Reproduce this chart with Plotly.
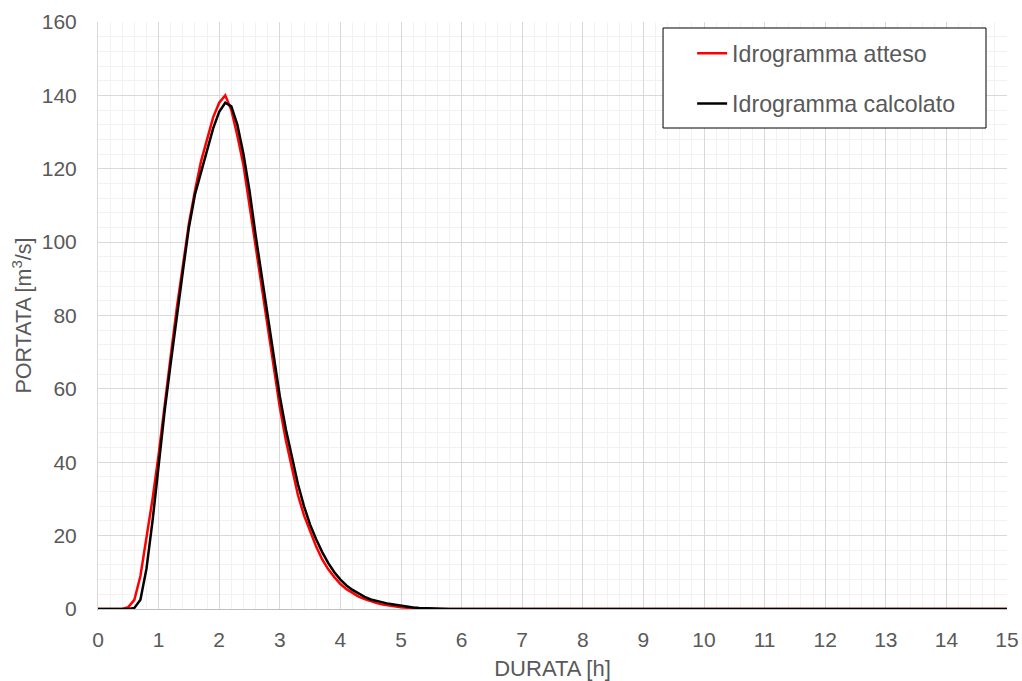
import plotly.graph_objects as go

# durata [h]
durata = [0.0, 0.1, 0.2, 0.3, 0.4, 0.5, 0.6, 0.7, 0.8, 0.9,
          1.0, 1.1, 1.2, 1.3, 1.4, 1.5, 1.6, 1.7, 1.8, 1.9,
          2.0, 2.1, 2.2, 2.3, 2.4, 2.5, 2.6, 2.7, 2.8, 2.9,
          3.0, 3.1, 3.2, 3.3, 3.4, 3.5, 3.6, 3.7, 3.8, 3.9,
          4.0, 4.1, 4.2, 4.3, 4.4, 4.5, 4.6, 4.7, 4.8, 4.9,
          5.0, 5.1, 5.2, 5.3, 5.4, 5.5, 5.6, 5.7, 5.8, 5.9,
          6.0, 15.0]

# portata [m3/s]
q_atteso = [0, 0, 0, 0, 0, 0.5, 2.5, 9, 19, 30,
            42, 56, 69, 82, 94, 105, 114, 122, 128, 134,
            138, 140, 136, 129, 121, 110, 99, 88, 76, 65,
            55, 46, 38, 31, 25.5, 21, 17, 13.5, 10.8, 8.7,
            6.8, 5.4, 4.3, 3.4, 2.7, 2.1, 1.6, 1.2, 0.9, 0.7,
            0.5, 0.35, 0.25, 0.15, 0.08, 0, 0, 0, 0, 0,
            0, 0]

q_calcolato = [0, 0, 0, 0, 0, 0, 0.3, 2.5, 11, 24,
               39, 54, 67, 80, 92, 104, 113, 119, 125, 131,
               135.5, 138, 137, 132, 124, 114, 102, 91, 79, 68,
               58, 49, 41, 34, 28, 23, 19, 15.5, 12.5, 10,
               8, 6.4, 5.2, 4.2, 3.3, 2.6, 2.1, 1.8, 1.4, 1.1,
               0.8, 0.6, 0.4, 0.3, 0.2, 0.1, 0.05, 0, 0, 0,
               0, 0]

font_fam = "Liberation Sans, Arial, sans-serif"
grey = "#595959"

fig = go.Figure()
fig.add_trace(go.Scatter(x=durata, y=q_atteso, mode="lines", name="Idrogramma atteso",
                         line=dict(color="#ff0000", width=2.5), legendgroup="a"))
fig.add_trace(go.Scatter(x=durata, y=q_calcolato, mode="lines", name="Idrogramma calcolato",
                         line=dict(color="#000000", width=2.5), legendgroup="b"))

fig.update_layout(
    width=1022, height=681,
    margin=dict(l=98, r=15, t=22, b=72),
    paper_bgcolor="white", plot_bgcolor="white",
    font=dict(family=font_fam, size=21, color=grey),
    showlegend=True,
    legend=dict(x=0.6536, y=0.9835, xanchor="left", yanchor="top",
                borderwidth=0, bgcolor="rgba(0,0,0,0)",
                traceorder="grouped", tracegroupgap=17,
                font=dict(family=font_fam, size=23.2, color=grey)),
    xaxis=dict(range=[0, 15], dtick=1, tick0=0, showgrid=True, gridcolor="#d9d9d9", gridwidth=1,
               minor=dict(dtick=0.2, showgrid=True, gridcolor="#f2f2f2", gridwidth=1),
               showline=True, linecolor="#bfbfbf", linewidth=1, zeroline=False,
               ticks="", ticklabelstandoff=12, automargin=False,
               title=dict(text="DURATA [h]", standoff=12, font=dict(size=22)), fixedrange=True),
    yaxis=dict(range=[0, 160], dtick=20, tick0=0, showgrid=True, gridcolor="#d9d9d9", gridwidth=1,
               minor=dict(dtick=4, showgrid=True, gridcolor="#f2f2f2", gridwidth=1),
               showline=True, linecolor="#d9d9d9", linewidth=1, zeroline=False,
               ticks="", ticklabelstandoff=16, automargin=False,
               title=dict(text="PORTATA [m<sup>3</sup>/s]", standoff=4, font=dict(size=21.5)),
               fixedrange=True),
    shapes=[dict(type="rect", xref="paper", yref="paper",
                 x0=0.6216, x1=0.9769, y0=0.8194, y1=0.9898,
                 line=dict(color="#000000", width=1), fillcolor="white", layer="above")],
)

# drop the default 8px body margin so the figure sits at the window's corner
fig.write_html("out.html", config={"displayModeBar": False},
               post_script="document.body.style.margin='0';"
                           "document.documentElement.style.overflow='hidden';")
